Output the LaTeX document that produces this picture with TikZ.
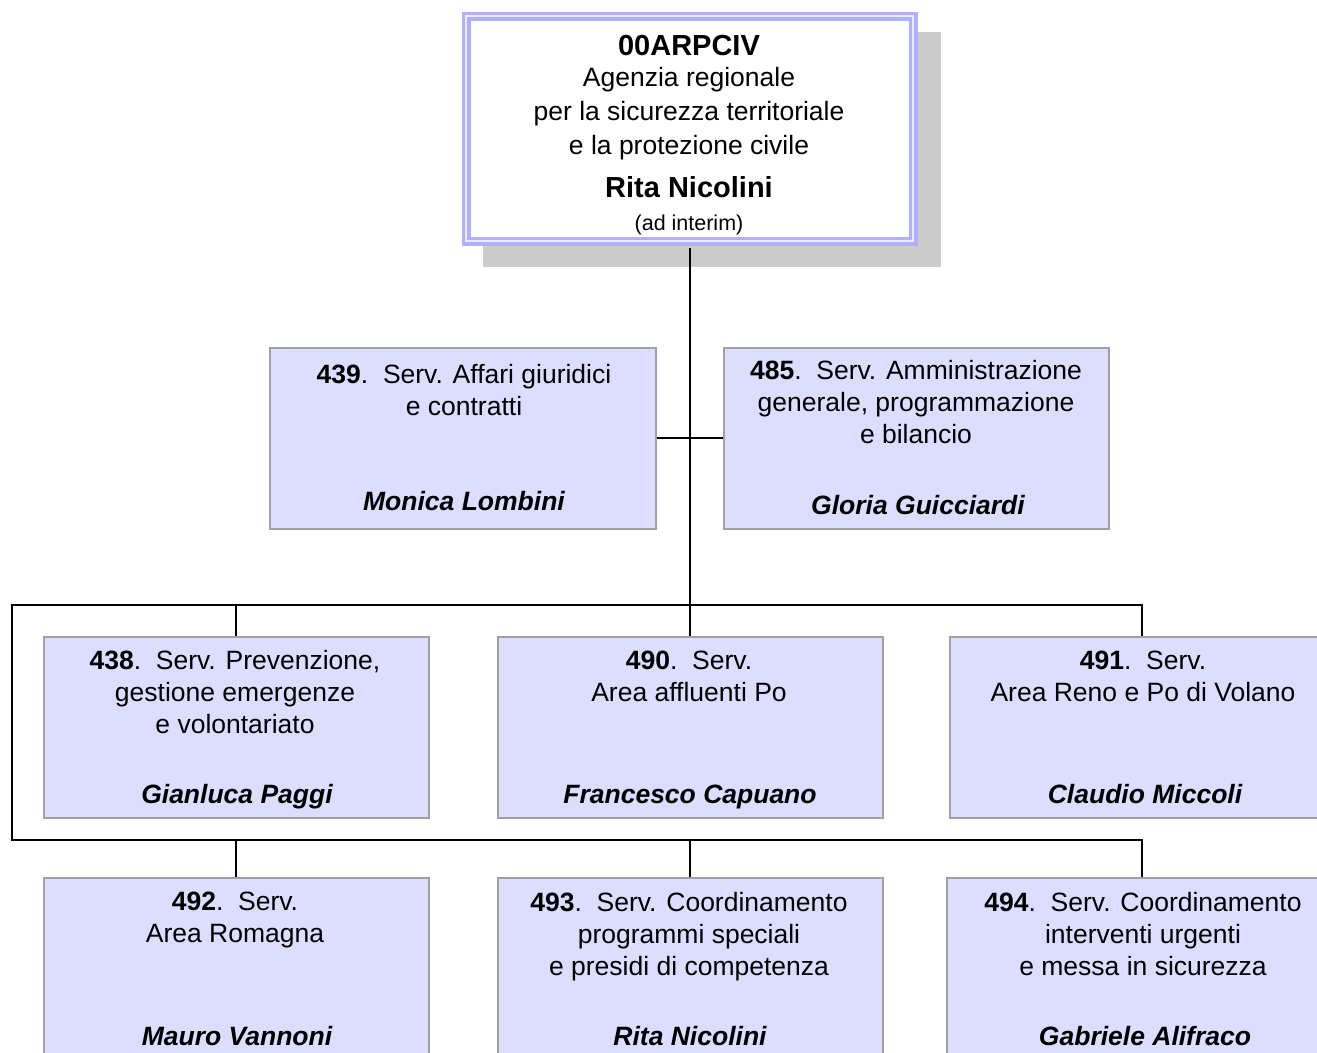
\documentclass[tikz,border=0pt]{standalone}
\usepackage{fontspec}
\setmainfont{Liberation Sans}
\definecolor{boxfill}{RGB}{221,221,255}
\definecolor{boxline}{RGB}{160,160,160}
\definecolor{topline}{RGB}{176,176,255}
\definecolor{topgap}{RGB}{236,236,255}
\definecolor{shadowgray}{RGB}{204,204,204}
\begin{document}
\begin{tikzpicture}[x=1pt,y=-1pt,
  svcbox/.style={draw=boxline, fill=boxfill, line width=1.5pt, minimum width=385pt, minimum height=181pt, anchor=north west, inner sep=0pt},
  desc/.style={align=center, inner sep=0pt, font=\fontsize{26.5}{32}\selectfont},
  person/.style={anchor=base, inner sep=0pt, font=\fontsize{26.5}{32}\selectfont\bfseries\itshape},
  conn/.style={draw=black, line width=1.6pt}]
\clip (0,0) rectangle (1317,1052);
\fill[white] (0,0) rectangle (1317,1052);
% shadow of top box
\fill[shadowgray] (483,32) rectangle (941,267);
% top box
\node[draw=topline, double=topgap, double distance=2pt, line width=3.5pt, fill=white, anchor=north west, minimum width=447pt, minimum height=225pt, inner sep=0pt] (top) at (464.5,14.5) {};
\node[anchor=base, inner sep=0pt, font=\fontsize{29}{34}\selectfont\bfseries] (toptitle) at (689,55.5) {00ARPCIV};
\node[align=center, inner sep=0pt, font=\fontsize{26.5}{34}\selectfont] (topdesc) at (689,114) {Agenzia regionale\\per la sicurezza territoriale\\e la protezione civile};
\node[anchor=base, inner sep=0pt, font=\fontsize{29}{34}\selectfont\bfseries] (topname) at (689,197.5) {Rita Nicolini};
\node[inner sep=0pt, font=\fontsize{21.5}{26}\selectfont] (topnote) at (689,225) {(ad interim)};
% service boxes
\node[svcbox, minimum width=386pt] (b439) at (269,347) {};
\node[svcbox] (b485) at (723,347) {};
\node[svcbox] (b438) at (43,636) {};
\node[svcbox] (b490) at (497,636) {};
\node[svcbox] (b491) at (949,636) {};
\node[svcbox] (b492) at (43,877) {};
\node[svcbox] (b493) at (497,877) {};
\node[svcbox] (b494) at (946,877) {};
% texts
\node[desc] (t439) at (464,390) {\textbf{439}.\ \ Serv. Affari giuridici\\e contratti};
\node[person] (n439) at (464,510.5) {Monica Lombini};
\node[desc] (t485) at (916,402) {\textbf{485}.\ \ Serv. Amministrazione\\generale, programmazione\\e bilancio};
\node[person] (n485) at (918,514.5) {Gloria Guicciardi};
\node[desc] (t438) at (235,692) {\textbf{438}.\ \ Serv. Prevenzione,\\gestione emergenze\\e volontariato};
\node[person] (n438) at (237,803.5) {Gianluca Paggi};
\node[desc] (t490) at (689,676) {\textbf{490}.\ \ Serv.\\Area affluenti Po};
\node[person] (n490) at (690,803.5) {Francesco Capuano};
\node[desc] (t491) at (1143,676) {\textbf{491}.\ \ Serv.\\Area Reno e Po di Volano};
\node[person] (n491) at (1145,803.5) {Claudio Miccoli};
\node[desc] (t492) at (235,919.5) {\textbf{492}.\ \ Serv.\\Area Romagna};
\node[person] (n492) at (237,1045.5) {Mauro Vannoni};
\node[desc] (t493) at (689,937) {\textbf{493}.\ \ Serv. Coordinamento\\programmi speciali\\e presidi di competenza};
\node[person] (n493) at (690,1045.5) {Rita Nicolini};
\node[desc] (t494) at (1143,934) {\textbf{494}.\ \ Serv. Coordinamento\\interventi urgenti\\e messa in sicurezza};
\node[person] (n494) at (1145,1045.5) {Gabriele Alifraco};
% connectors
\coordinate (busAL) at (12,605);
\coordinate (busAR) at (1142,605);
\coordinate (busBL) at (12,840);
\coordinate (busBR) at (1142,840);
\draw[conn] (top.south) ++(0,4.5) -- (top.south |- b490.north);
\draw[conn] (b439.east) -- (b485.west);
\draw[conn] (b438.north) -- (b438.north |- busAL);
\draw[conn] (busAR |- b491.north) -- (busAR) -- (busAL) -- (busBL) -- (busBR) -- (busBR |- b494.north);
\draw[conn] (b492.north |- busBL) -- (b492.north);
\draw[conn] (b493.north |- busBL) -- (b493.north);
\end{tikzpicture}
\end{document}
